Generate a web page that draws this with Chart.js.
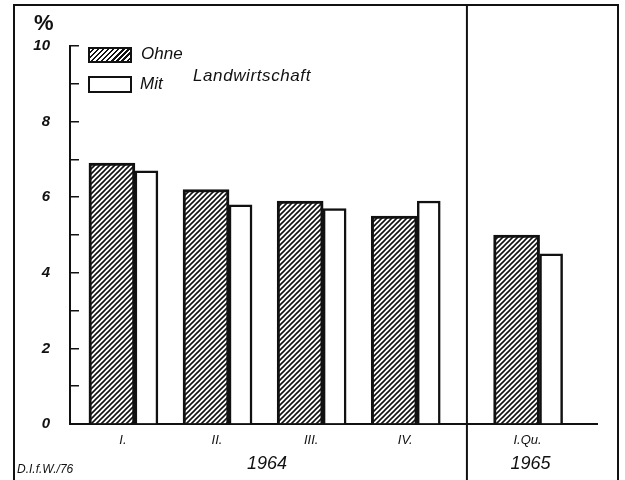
<!DOCTYPE html>
<html lang="de">
<head>
<meta charset="UTF-8">
<title>Ohne / Mit Landwirtschaft</title>
<script src="https://cdn.jsdelivr.net/npm/chart.js"></script>
<style>
  body { margin: 0; background: #fff; }
  #wrap { position: relative; width: 625px; height: 480px; overflow: hidden; font-family: "Liberation Sans", Arial, sans-serif; color: #111; }
  #chart { position: absolute; left: 0; top: 0; }
  #frame { position: absolute; left: 13px; top: 4px; width: 602px; height: 480px; border: 2px solid #111; border-bottom: none; }
  .txt { position: absolute; font-style: italic; white-space: nowrap; }
  .box { position: absolute; width: 40px; height: 12px; border: 2.5px solid #111; background: #fff; }
  .hatch { background: repeating-linear-gradient(135deg, #fff 0 1.6px, #111 1.6px 3.2px, #fff 3.2px 3.6px); }
</style>
</head>
<body>
<div id="wrap">
  <canvas id="chart" width="625" height="480"></canvas>
  <div id="frame"></div>
  <div class="txt" style="left:34px; top:10px; font-size:22px; font-style:normal; font-weight:bold;">%</div>
  <div class="box hatch" style="left:88px; top:47px;"></div>
  <div class="txt" style="left:141px; top:44px; font-size:17px;">Ohne</div>
  <div class="box" style="left:88px; top:76px; height:13px;"></div>
  <div class="txt" style="left:140px; top:74px; font-size:17px;">Mit</div>
  <div class="txt" style="left:193px; top:66px; font-size:17px; letter-spacing:0.6px;">Landwirtschaft</div>
  <div class="txt" style="left:17px; top:462px; font-size:12px;">D.I.f.W./76</div>
</div>
<script>
const quarters = ['I.', 'II.', 'III.', 'IV.', 'I.Qu.'];
const years = [1964, 1964, 1964, 1964, 1965];
const ohne = [6.9, 6.2, 5.9, 5.5, 5.0];
const mit = [6.7, 5.8, 5.7, 5.9, 4.5];
const yTicks = [0, 2, 4, 6, 8, 10];

// Lage auf der x-Achse: Quartale nebeneinander, Luecke vor dem neuen Jahr
const yearGap = 0.3;
const pos = quarters.map((q, i) => i + 1 + (years[i] !== years[0] ? yearGap : 0));
const yearList = [...new Set(years)];
const yearPos = yearList.map(y => {
  const p = pos.filter((v, i) => years[i] === y);
  return p.reduce((a, b) => a + b, 0) / p.length;
});

// Schraffur
const pc = document.createElement('canvas');
pc.width = pc.height = 5;
const g = pc.getContext('2d');
g.fillStyle = '#fff';
g.fillRect(0, 0, 5, 5);
g.strokeStyle = '#111';
g.lineWidth = 1.6;
g.beginPath();
g.moveTo(0, 5); g.lineTo(5, 0);
g.moveTo(-1, 1); g.lineTo(1, -1);
g.moveTo(4, 6); g.lineTo(6, 4);
g.stroke();
const canvas = document.getElementById('chart');
const hatch = canvas.getContext('2d').createPattern(pc, 'repeat');

// Trennlinie zwischen den Jahren
const yearSplit = {
  id: 'yearSplit',
  afterDraw(chart) {
    const a = chart.getDatasetMeta(0).data;
    const b = chart.getDatasetMeta(1).data;
    const ctx = chart.ctx;
    for (let i = 1; i < years.length; i++) {
      if (years[i] === years[i - 1]) continue;
      const right = b[i - 1].x + b[i - 1].width / 2;
      const left = a[i].x - a[i].width / 2;
      const x = (right + left) / 2;
      ctx.save();
      ctx.strokeStyle = '#111';
      ctx.lineWidth = 2;
      ctx.beginPath();
      ctx.moveTo(x, 5);
      ctx.lineTo(x, 480);
      ctx.stroke();
      ctx.restore();
    }
  }
};

const labelFont = { family: '"Liberation Sans", Arial, sans-serif', style: 'italic' };

new Chart(canvas, {
  type: 'bar',
  data: {
    datasets: [{
      label: 'Ohne',
      data: ohne.map((v, i) => ({ x: pos[i], y: v })),
      backgroundColor: hatch,
      borderColor: '#111',
      borderWidth: 3,
      barThickness: 46
    }, {
      label: 'Mit',
      data: mit.map((v, i) => ({ x: pos[i], y: v })),
      backgroundColor: '#fff',
      borderColor: '#111',
      borderWidth: 2.5,
      barThickness: 23
    }]
  },
  options: {
    responsive: false,
    animation: false,
    layout: { padding: { top: 46, right: 28, left: 0, bottom: 0 } },
    plugins: { legend: { display: false }, tooltip: { enabled: false } },
    scales: {
      x: {
        type: 'linear',
        offset: false,
        bounds: 'data',
        min: 0.31,
        max: 5.91,
        afterBuildTicks: s => { s.ticks = pos.map(v => ({ value: v })); },
        afterFit: s => { s.height = 28; },
        grid: { drawOnChartArea: false, drawTicks: false },
        border: { color: '#111', width: 2 },
        ticks: {
          autoSkip: false, maxRotation: 0, padding: 9, labelOffset: -12,
          color: '#111', font: { ...labelFont, size: 13 },
          callback: (v, i) => quarters[i]
        }
      },
      xYear: {
        type: 'linear',
        position: 'bottom',
        weight: 1,
        offset: false,
        bounds: 'data',
        min: 0.31,
        max: 5.91,
        afterBuildTicks: s => { s.ticks = yearPos.map(v => ({ value: v })); },
        afterFit: s => { s.height = 28; },
        grid: { display: false, drawTicks: false },
        border: { display: false },
        ticks: {
          autoSkip: false, maxRotation: 0, padding: 1, labelOffset: -9,
          color: '#111', font: { ...labelFont, size: 18 },
          callback: (v, i) => String(yearList[i])
        }
      },
      y: {
        min: 0,
        max: 10,
        afterFit: s => { s.width = 70; },
        grid: { drawOnChartArea: false, tickLength: -9, color: '#111', lineWidth: 1.5 },
        border: { color: '#111', width: 2 },
        ticks: {
          stepSize: 1, padding: 29, color: '#111',
          font: { ...labelFont, size: 15, weight: 'bold' },
          callback: v => yTicks.includes(v) ? String(v) : ''
        }
      }
    }
  },
  plugins: [yearSplit]
});
</script>
</body>
</html>
